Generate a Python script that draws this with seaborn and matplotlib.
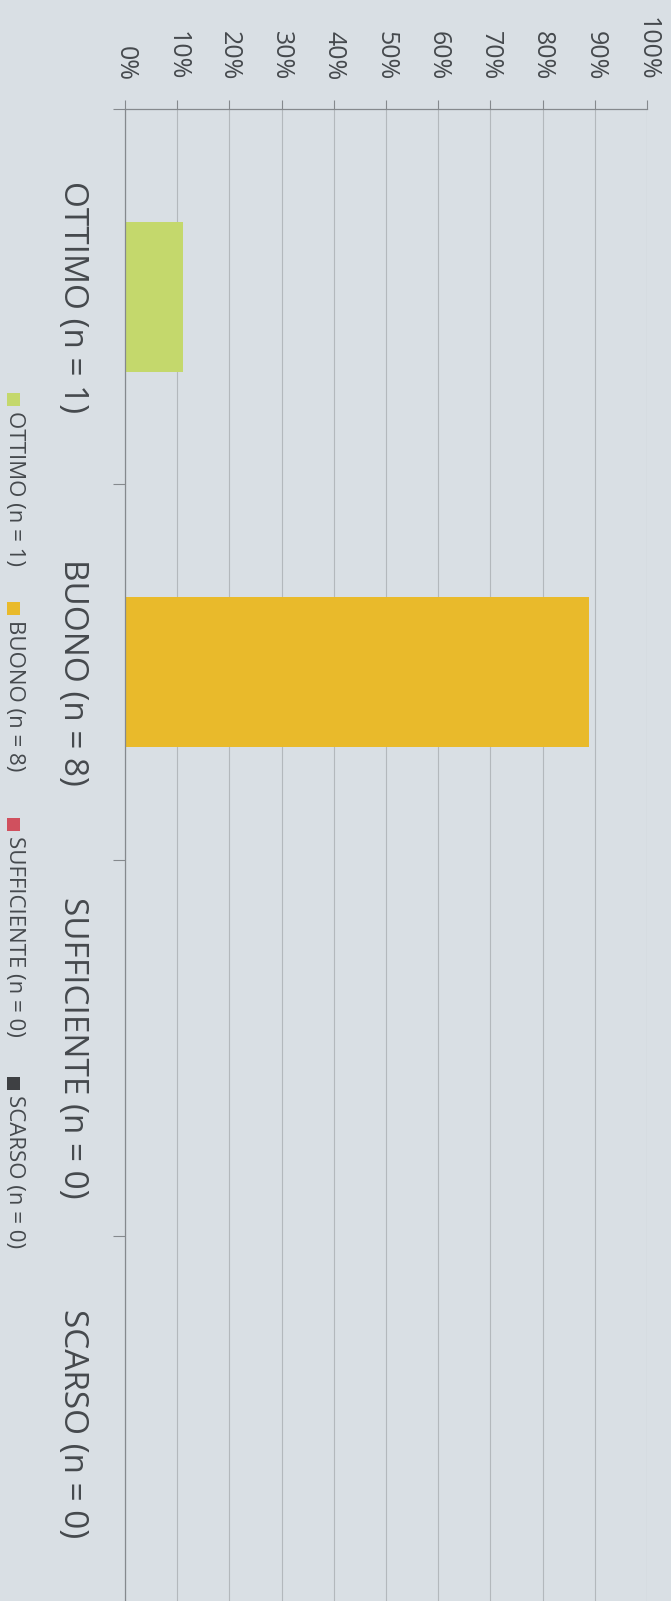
import matplotlib
matplotlib.use("Agg")
import matplotlib.pyplot as plt
from matplotlib.patches import Rectangle
from matplotlib.ticker import FixedLocator
import seaborn as sns
import pandas as pd

categories = ["OTTIMO (n = 1)", "BUONO (n = 8)", "SUFFICIENTE (n = 0)", "SCARSO (n = 0)"]
percent = [11.1, 88.9, 0, 0]
bar_colors = ["#c4d86c", "#e9ba2b", "#d0505e", "#3e4043"]
pct_ticks = [0, 10, 20, 30, 40, 50, 60, 70, 80, 90, 100]
pct_labels = ["0%", "10%", "20%", "30%", "40%", "50%", "60%", "70%", "80%", "90%", "100%"]

bg = "#d9dfe4"
text_c = "#45494d"
axis_c = "#85898d"
grid_c = "#b3b8bc"

sns.set_theme(style="ticks")
plt.rcParams["font.family"] = ["Open Sans", "DejaVu Sans"]

W, H = 671, 1601
fig = plt.figure(figsize=(W / 100, H / 100), dpi=100, facecolor=bg)
# plot area runs past the bottom edge, like the cut-off scan
ax = fig.add_axes([125 / W, -10 / H, 522 / W, 1502 / H])
ax.set_facecolor(bg)

df = pd.DataFrame({"cat": categories, "pct": percent})
sns.barplot(data=df, x="pct", y="cat", hue="cat", palette=bar_colors,
            width=0.4, saturation=1, legend=False, linewidth=0, ax=ax)

ax.set_xlim(0, 100)
ax.set_ylim(3.5, -0.5)
ax.set_xlabel("")
ax.set_ylabel("")

# value axis on top, labels turned like the scan
ax.xaxis.tick_top()
ax.set_xticks(pct_ticks)
ax.set_xticklabels(pct_labels, rotation=-90, fontsize=18, color=text_c)
ax.tick_params(axis="x", which="major", direction="out", length=6.5, width=0.8,
               color=axis_c, pad=14, top=True, bottom=False,
               labeltop=True, labelbottom=False)
ax.grid(axis="x", color=grid_c, linewidth=0.8)
ax.set_axisbelow(True)

# category axis on the left, ticks between categories
ax.set_yticks(range(len(categories)))
ax.set_yticklabels(categories, rotation=-90, fontsize=24, color=text_c,
                   va="center", ha="right")
ax.tick_params(axis="y", which="major", length=0, pad=26, left=True)
ax.yaxis.set_minor_locator(FixedLocator([-0.5, 0.5, 1.5, 2.5, 3.5]))
ax.tick_params(axis="y", which="minor", length=8.6, width=0.8, color=axis_c,
               direction="out", left=True)

for side in ["right", "bottom"]:
    ax.spines[side].set_visible(False)
for side in ["top", "left"]:
    ax.spines[side].set_color(axis_c)
    ax.spines[side].set_linewidth(0.9)

# legend, drawn by hand because it is turned too
legend_top = [393, 602, 818, 1077]
for lab, col, y0 in zip(categories, bar_colors, legend_top):
    fig.add_artist(Rectangle((7 / W, 1 - (y0 + 13) / H), 13 / W, 13 / H,
                             transform=fig.transFigure, color=col, lw=0))
    fig.text(14 / W, 1 - (y0 + 18) / H, lab, rotation=-90, ha="center",
             va="top", fontsize=16, color=text_c)

fig.savefig("out.png", dpi=100, facecolor=bg)
